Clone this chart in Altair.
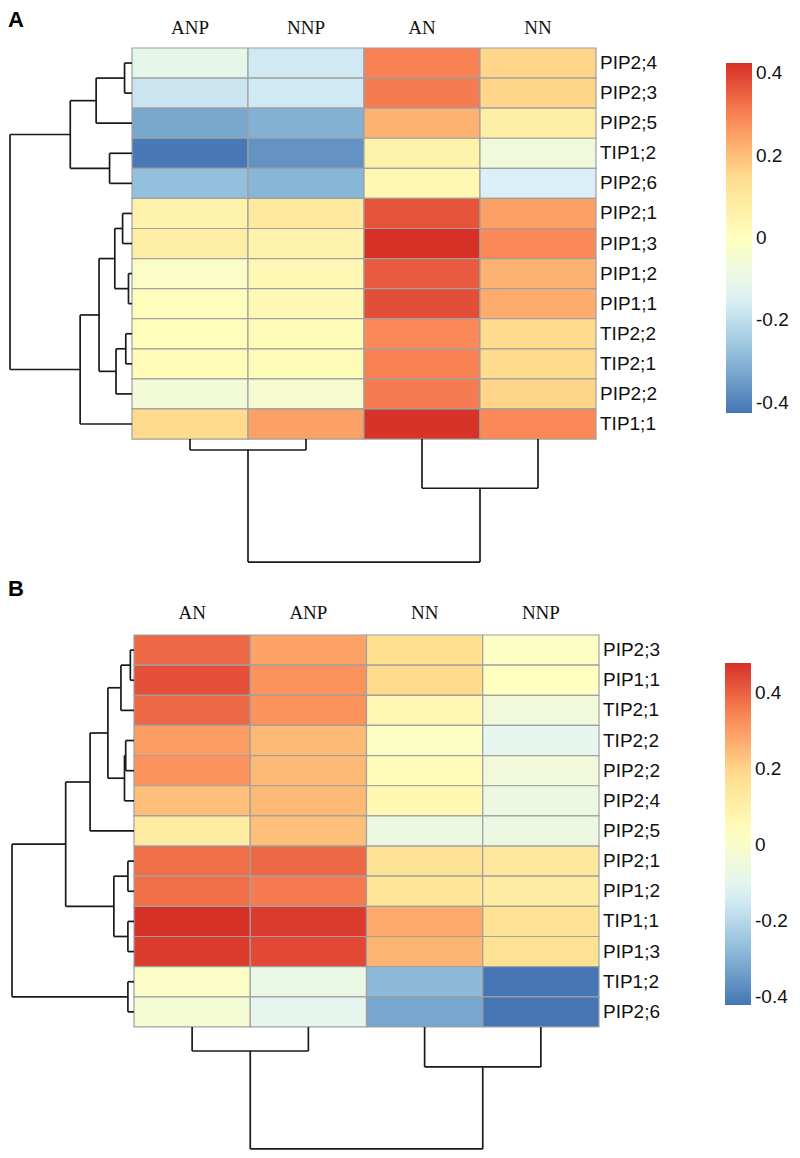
import altair as alt
import pandas as pd

PALETTE = ["#4575B4", "#91BFDB", "#E0F3F8", "#FFFFBF", "#FEE090", "#FC8D59", "#D73027"]
legend_ticks = [-0.4, -0.2, 0, 0.2, 0.4]

# ---------------- Panel A ----------------
cols_A = ["ANP", "NNP", "AN", "NN"]
rows_A = ["PIP2;4", "PIP2;3", "PIP2;5", "TIP1;2", "PIP2;6", "PIP2;1", "PIP1;3",
          "PIP1;2", "PIP1;1", "TIP2;2", "TIP2;1", "PIP2;2", "TIP1;1"]
values_A = [
    [-0.11, -0.17, 0.30, 0.16],
    [-0.18, -0.17, 0.31, 0.16],
    [-0.33, -0.31, 0.22, 0.08],
    [-0.42, -0.37, 0.06, -0.07],
    [-0.28, -0.30, 0.04, -0.15],
    [0.06, 0.10, 0.37, 0.25],
    [0.08, 0.06, 0.425, 0.29],
    [-0.02, 0.03, 0.36, 0.22],
    [0.01, 0.03, 0.38, 0.23],
    [0.01, 0.02, 0.29, 0.15],
    [0.02, 0.02, 0.30, 0.15],
    [-0.06, -0.04, 0.31, 0.16],
    [0.15, 0.25, 0.42, 0.29],
]
# (child a, child b, merge height as fraction of tree height); nodes >= n are earlier merges
row_merges_A = [(0, 1, 0.061), (13, 2, 0.294), (3, 4, 0.184), (14, 15, 0.506),
                (5, 6, 0.077), (7, 8, 0.029), (17, 18, 0.141), (9, 10, 0.051),
                (20, 11, 0.131), (19, 21, 0.27), (22, 12, 0.425), (16, 23, 1.0)]
col_merges_A = [(0, 1, 0.089), (2, 3, 0.40), (4, 5, 1.0)]
color_range_A = [-0.425, 0.425]

# ---------------- Panel B ----------------
cols_B = ["AN", "ANP", "NN", "NNP"]
rows_B = ["PIP2;3", "PIP1;1", "TIP2;1", "TIP2;2", "PIP2;2", "PIP2;4", "PIP2;5",
          "PIP2;1", "PIP1;2", "TIP1;1", "PIP1;3", "TIP1;2", "PIP2;6"]
values_B = [
    [0.39, 0.29, 0.18, 0.02],
    [0.43, 0.32, 0.19, 0.03],
    [0.39, 0.32, 0.07, -0.04],
    [0.30, 0.25, 0.02, -0.09],
    [0.32, 0.25, 0.05, -0.04],
    [0.24, 0.25, 0.07, -0.06],
    [0.12, 0.24, -0.06, -0.06],
    [0.38, 0.39, 0.17, 0.14],
    [0.38, 0.36, 0.15, 0.12],
    [0.48, 0.46, 0.28, 0.17],
    [0.46, 0.44, 0.26, 0.17],
    [0.01, -0.07, -0.28, -0.42],
    [-0.02, -0.09, -0.32, -0.42],
]
row_merges_B = [(0, 1, 0.03), (13, 2, 0.107), (3, 4, 0.068), (15, 5, 0.078),
                (14, 16, 0.214), (17, 6, 0.36), (7, 8, 0.05), (9, 10, 0.05),
                (19, 20, 0.165), (18, 21, 0.56), (11, 12, 0.05), (22, 23, 1.0)]
col_merges_B = [(0, 1, 0.197), (2, 3, 0.328), (4, 5, 1.0)]
color_range_B = [-0.42, 0.48]

# ---------------- layout (pixels) ----------------
LAYOUT_A = dict(w=784, h=570, hm_left=124, hm_top=40, cw=116.0, ch=30.08,
                row_dend=122, col_dend=123, col_dy=-14, row_dx=4,
                leg_x=718, leg_y=55, leg_len=350, leg_th=26, letter_y=19)
LAYOUT_B = dict(w=784, h=572, hm_left=126, hm_top=57, cw=116.25, ch=30.15,
                row_dend=122, col_dend=122, col_dy=-16, row_dx=4,
                leg_x=717, leg_y=85, leg_len=342, leg_th=26, letter_y=18)

LABEL_EXPR = ("datum.value < 0 ? '-' + format(abs(datum.value), '.1f') : "
              "(datum.value == 0 ? '0' : format(datum.value, '.1f'))")


def heat_df(rows, cols, vals):
    recs = []
    for i, r in enumerate(rows):
        for j, c in enumerate(cols):
            recs.append(dict(row=r, col=c, v=vals[i][j], c0=j, c1=j + 1, r0=i, r1=i + 1))
    return pd.DataFrame(recs)


def dendro_df(merges, n, orient, depth, edge):
    pos = [k + 0.5 for k in range(n)]
    hgt = [0.0] * n
    segs = []

    def h2c(h):
        return -h * depth if orient == "left" else edge + h * depth

    for a, b, h in merges:
        for c in (a, b):
            if orient == "left":
                segs.append(dict(x=h2c(hgt[c]), x2=h2c(h), y=pos[c], y2=pos[c]))
            else:
                segs.append(dict(x=pos[c], x2=pos[c], y=h2c(hgt[c]), y2=h2c(h)))
        if orient == "left":
            segs.append(dict(x=h2c(h), x2=h2c(h), y=pos[a], y2=pos[b]))
        else:
            segs.append(dict(x=pos[a], x2=pos[b], y=h2c(h), y2=h2c(h)))
        pos.append((pos[a] + pos[b]) / 2)
        hgt.append(h)
    return pd.DataFrame(segs)


def panel(letter, rows, cols, vals, rmerges, cmerges, crange, L):
    nrow, ncol = len(rows), len(cols)
    xs = alt.Scale(domain=[-L["hm_left"] / L["cw"], (L["w"] - L["hm_left"]) / L["cw"]],
                   nice=False, zero=False)
    ys = alt.Scale(domain=[-L["hm_top"] / L["ch"], (L["h"] - L["hm_top"]) / L["ch"]],
                   nice=False, zero=False, reverse=True)
    lo, hi = crange
    cdom = [lo + k * (hi - lo) / 6 for k in range(7)]

    heat = alt.Chart(heat_df(rows, cols, vals)).mark_rect(
        stroke="#A0A0A0", strokeWidth=1.2
    ).encode(
        x=alt.X("c0:Q", scale=xs, axis=None), x2="c1:Q",
        y=alt.Y("r0:Q", scale=ys, axis=None), y2="r1:Q",
        color=alt.Color("v:Q", scale=alt.Scale(domain=cdom, range=PALETTE, interpolate="rgb"),
                        legend=alt.Legend(orient="none", legendX=L["leg_x"], legendY=L["leg_y"],
                                          direction="vertical", title=None,
                                          gradientLength=L["leg_len"],
                                          gradientThickness=L["leg_th"],
                                          gradientStrokeWidth=0,
                                          values=legend_ticks, labelExpr=LABEL_EXPR,
                                          labelFont="Liberation Sans", labelFontSize=19,
                                          labelColor="#111111", labelOffset=4, padding=0)),
    )

    rd = dendro_df(rmerges, nrow, "left", L["row_dend"] / L["cw"], 0)
    cd = dendro_df(cmerges, ncol, "bottom", L["col_dend"] / L["ch"], nrow)
    dend = pd.concat([rd, cd], ignore_index=True)
    tree = alt.Chart(dend).mark_rule(color="#1a1a1a", strokeWidth=1.7).encode(
        x=alt.X("x:Q", scale=xs, axis=None), x2="x2:Q",
        y=alt.Y("y:Q", scale=ys, axis=None), y2="y2:Q",
    )

    rlab = pd.DataFrame(dict(label=rows, yc=[i + 0.5 for i in range(nrow)], xc=[ncol] * nrow))
    row_text = alt.Chart(rlab).mark_text(
        align="left", baseline="middle", dx=L["row_dx"], font="Liberation Sans",
        fontSize=19, color="#111111"
    ).encode(
        x=alt.X("xc:Q", scale=xs, axis=None), y=alt.Y("yc:Q", scale=ys, axis=None),
        text="label:N",
    )

    clab = pd.DataFrame(dict(label=cols, xc=[j + 0.5 for j in range(ncol)], yc=[0] * ncol))
    col_text = alt.Chart(clab).mark_text(
        align="center", baseline="alphabetic", dy=L["col_dy"], font="Liberation Serif",
        fontSize=19, color="#111111"
    ).encode(
        x=alt.X("xc:Q", scale=xs, axis=None), y=alt.Y("yc:Q", scale=ys, axis=None),
        text="label:N",
    )

    letter_text = alt.Chart(pd.DataFrame(dict(t=[letter]))).mark_text(
        align="left", baseline="alphabetic", font="Liberation Sans", fontSize=22,
        fontWeight="bold", color="#000000"
    ).encode(x=alt.value(0), y=alt.value(L["letter_y"]), text="t:N")

    return alt.layer(heat, tree, row_text, col_text, letter_text).properties(
        width=L["w"], height=L["h"]
    )


pA = panel("A", rows_A, cols_A, values_A, row_merges_A, col_merges_A, color_range_A, LAYOUT_A)
pB = panel("B", rows_B, cols_B, values_B, row_merges_B, col_merges_B, color_range_B, LAYOUT_B)

chart = alt.vconcat(pA, pB, spacing=0, bounds="flush").resolve_scale(
    x="independent", y="independent", color="independent"
).properties(padding=0).configure_view(stroke=None)

chart.save("out.html", embed_options={"renderer": "svg", "actions": False})
